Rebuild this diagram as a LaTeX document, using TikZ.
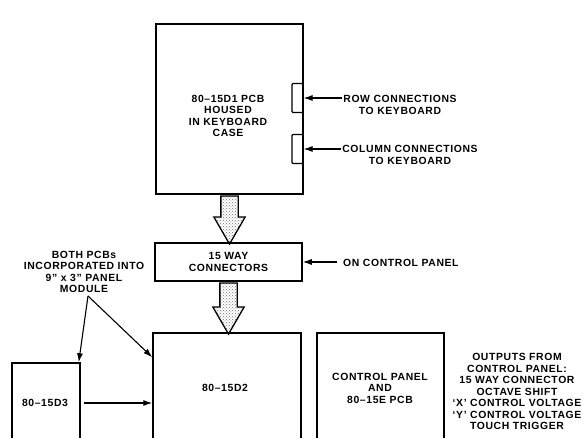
\documentclass[tikz,border=0pt]{standalone}
\usepackage{fontspec}
\setmainfont{Liberation Sans}[LetterSpace=6]
\usetikzlibrary{arrows.meta,positioning,shapes.arrows,patterns,calc}

\begin{document}
\begin{tikzpicture}[x=1pt, y=-1pt,
  lbl/.style={font=\bfseries\fontsize{10.4}{11.5}\selectfont, align=center, inner sep=0pt},
  box/.style={lbl, draw, line width=1.5pt},
  tab/.style={draw, line width=1.2pt, rounded corners=1pt, minimum width=11pt, minimum height=29pt, inner sep=0pt},
  msg/.style={-{Latex[length=9pt,width=6pt]}, line width=1.1pt},
  feed/.style={single arrow, draw, line width=1.3pt, rotate=-90, anchor=tail, inner xsep=0pt, inner ysep=8pt,
    single arrow head extend=7pt, single arrow tip angle=60,
    pattern=crosshatch dots, pattern color=black!55}
]
\path[use as bounding box] (0,0) rectangle (586,438);
\clip (0,0) rectangle (586,438);

\node[tab] (tabA) at (297.5,98) {};
\node[tab] (tabB) at (297.5,149) {};
\node[box, minimum width=147pt, minimum height=170pt] (d1) at (229.5,109) {};
\node[lbl] (d1txt) at (228,116) {80\textendash15D1 PCB\\HOUSED\\IN KEYBOARD\\CASE};

\node[lbl] (rowtxt) at (400,105) {ROW CONNECTIONS\\TO KEYBOARD};
\node[lbl] (coltxt) at (410,155) {COLUMN CONNECTIONS\\TO KEYBOARD};
\draw[msg] ($(tabA.east -| rowtxt.west)+(-1,0)$) -- (tabA.east);
\draw[msg] ($(tabB.east -| coltxt.west)+(-1,0)$) -- (tabB.east);

\node[box, minimum width=147pt, minimum height=38pt] (conn) at (228.5,262) {15 WAY\\CONNECTORS};
\node[lbl, anchor=west] (ontxt) at (343,263) {ON CONTROL PANEL};
\draw[msg] ($(ontxt.west)+(-6,-1)$) -- (conn.east);

\node[box, minimum width=148pt, minimum height=130pt] (d2) at (227,398) {};
\node[lbl] (d2txt) at (225,388) {80\textendash15D2};
\node[box, minimum width=68pt, minimum height=100pt] (d3) at (46,413) {};
\node[lbl] (d3txt) at (45,403) {80\textendash15D3};
\node[box, minimum width=127pt, minimum height=130pt] (cp) at (380.5,398) {};
\node[lbl] (cptxt) at (380,388) {CONTROL PANEL\\AND\\80\textendash15E PCB};
\node[lbl] (outtxt) at (517,391.5) {OUTPUTS FROM\\CONTROL PANEL:\\15 WAY CONNECTOR\\OCTAVE SHIFT\\‘X’ CONTROL VOLTAGE\\‘Y’ CONTROL VOLTAGE\\TOUCH TRIGGER};

\node[feed, minimum height=48pt] (feedA) at ($(d1.south)+(0,0.7)$) {};
\node[feed, minimum height=51pt] (feedB) at ($(conn.south)+(0,0.7)$) {};

\node[lbl] (pcbs) at (84,272) {BOTH PCBs\\INCORPORATED INTO\\9” x 3” PANEL\\MODULE};
\coordinate (fork) at (88,296);
\draw[msg] (fork) -- ($(d3.north east)+(-2,0)$);
\draw[msg] (fork) -- ($(d2.north west)+(0,25)$);
\draw[msg] ($(d3.east |- d3txt)+(3,0)$) -- (d2.west |- d3txt);
\end{tikzpicture}
\end{document}
